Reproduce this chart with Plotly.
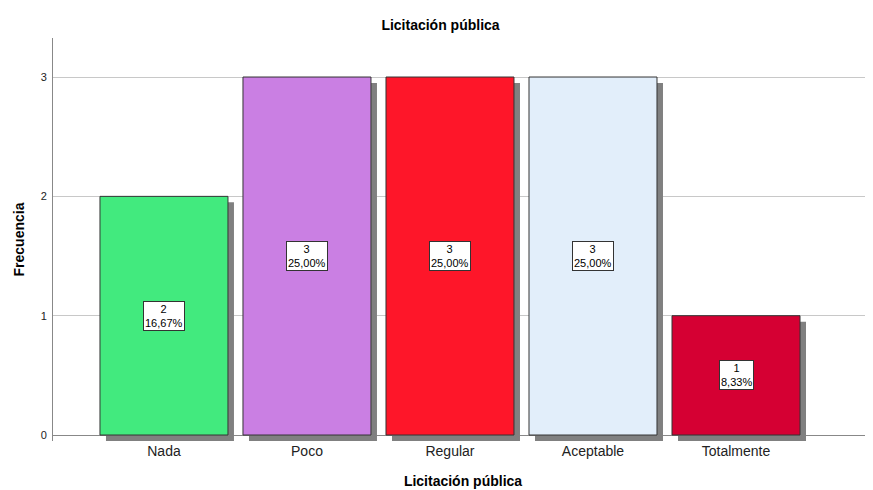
import plotly.graph_objects as go

categorias = ["Nada", "Poco", "Regular", "Aceptable", "Totalmente"]
frecuencias = [2, 3, 3, 3, 1]
porcentajes = ["16,67%", "25,00%", "25,00%", "25,00%", "8,33%"]
colores = ["#42EA7E", "#CA7FE3", "#FE1629", "#E2EEFA", "#D50033"]

ANCHO = 0.895
SOMBRA_X = 0.042   # ~6 px a la derecha
SOMBRA_Y = 0.05    # ~6 px hacia abajo
FUENTE = "Arial, Liberation Sans, sans-serif"

fig = go.Figure()

# sombra gris detrás de cada barra
fig.add_trace(go.Bar(
    x=categorias, y=frecuencias, base=-SOMBRA_Y,
    width=ANCHO, offset=-ANCHO / 2 + SOMBRA_X,
    marker=dict(color="#808080", line=dict(width=0)),
    hoverinfo="skip", showlegend=False,
))
fig.add_trace(go.Bar(
    x=categorias, y=frecuencias,
    width=ANCHO, offset=-ANCHO / 2,
    marker=dict(color=colores, line=dict(color="#333333", width=1)),
    showlegend=False,
))

for cat, f, p in zip(categorias, frecuencias, porcentajes):
    fig.add_annotation(
        x=cat, y=f / 2, text=f"{f}<br>{p}", showarrow=False,
        font=dict(family=FUENTE, size=11, color="#000000"),
        bgcolor="#ffffff", bordercolor="#333333", borderwidth=1, borderpad=1,
    )

# la página tiene 8 px de margen en body: la figura ocupa 865x482
fig.update_layout(
    width=865, height=482,
    paper_bgcolor="white", plot_bgcolor="white",
    barmode="overlay",
    margin=dict(l=45, r=0, t=30, b=49),
    font=dict(family=FUENTE, color="#000000"),
    title=dict(text="<b>Licitación pública</b>", x=0.5, xanchor="center",
               y=0.965, yanchor="middle", font=dict(size=14)),
    xaxis=dict(
        range=[-0.776, 4.958], showgrid=False, showline=False, zeroline=False,
        ticks="", tickfont=dict(size=14, color="#222222"), automargin=False,
        title=dict(text="<b>Licitación pública</b>", font=dict(size=14), standoff=18),
    ),
    yaxis=dict(
        range=[-SOMBRA_Y, 3.327], tickvals=[0, 1, 2, 3],
        showgrid=True, gridcolor="#c8c8c8", gridwidth=1,
        zeroline=True, zerolinecolor="#888888", zerolinewidth=1,
        showline=True, linecolor="#888888", linewidth=1,
        ticks="", ticklabelstandoff=3, tickfont=dict(size=11, color="#222222"),
        automargin=False,
        title=dict(text="<b>Frecuencia</b>", font=dict(size=14), standoff=12),
    ),
)

fig.write_html("out.html")
